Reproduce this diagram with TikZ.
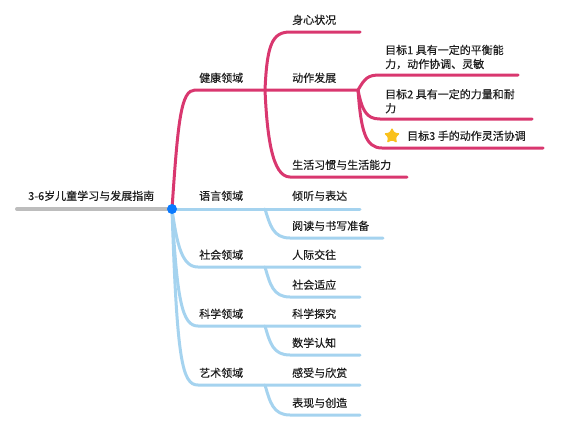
\documentclass[tikz,border=0pt]{standalone}
\usepackage{fontspec}
\setmainfont{Noto Sans CJK SC}[FakeBold=0.4]
\usetikzlibrary{shapes.geometric}
\definecolor{pinkc}{HTML}{D9376F}
\definecolor{bluec}{HTML}{A5D3EF}
\definecolor{dotc}{HTML}{0A7AFF}
\definecolor{rootc}{HTML}{BDBDBD}
\definecolor{starc}{HTML}{F9C11C}
\definecolor{txtc}{HTML}{1E1E1E}
\begin{document}
\begin{tikzpicture}[x=1pt,y=-1pt,
  lbl/.style={anchor=base west, inner sep=0pt, font=\fontsize{11}{14}\selectfont, text=txtc},
  pk/.style={draw=pinkc, line width=3pt, line cap=round},
  bl/.style={draw=bluec, line width=3pt, line cap=round}]
\useasboundingbox (0,0) rectangle (570,432);
% ---- coordinates of underlines
\coordinate (r0) at (17,209);
\coordinate (dot) at (172,209);
% health
\coordinate (h0) at (195,90);
\coordinate (hf) at (265,90);
\coordinate (s0) at (290,32);  \coordinate (s1) at (360,32);
\coordinate (af) at (358,90);
\coordinate (l0) at (290,177); \coordinate (l1) at (407,177);
\coordinate (g1a) at (380,75);  \coordinate (g1b) at (518,75);
\coordinate (g2a) at (380,119); \coordinate (g2b) at (532,119);
\coordinate (g3a) at (382,148); \coordinate (g3b) at (543,148);
% language
\coordinate (yf) at (265,209); \coordinate (y1) at (360,209);
\coordinate (rd0) at (290,238); \coordinate (rd1) at (383,238);
% social
\coordinate (so0) at (198,267); \coordinate (sof) at (265,267); \coordinate (so1) at (360,267);
\coordinate (sa0) at (290,297); \coordinate (sa1) at (360,297);
% science
\coordinate (sc0) at (198,326); \coordinate (scf) at (265,326); \coordinate (sc1) at (360,326);
\coordinate (ma0) at (290,355); \coordinate (ma1) at (360,355);
% art
\coordinate (ar0) at (198,385); \coordinate (arf) at (265,385); \coordinate (ar1) at (360,385);
\coordinate (bx0) at (290,415); \coordinate (bx1) at (360,415);

% ---- root line
\draw[draw=rootc, line width=4pt, line cap=round] (r0) -- (dot);

% ---- health branch (pink)
\draw[pk] (dot) .. controls (178,120) and (181,90) .. (h0) -- (hf) -- (af);
\draw[pk] (hf) .. controls (267,45) and (272,32) .. (s0) -- (s1);
\draw[pk] (hf) .. controls (267,135) and (272,177) .. (l0) -- (l1);
\draw[pk] (af) .. controls (365,78) and (368,75) .. (g1a) -- (g1b);
\draw[pk] (af) .. controls (362,110) and (366,119) .. (g2a) -- (g2b);
\draw[pk] (af) .. controls (361,130) and (365,148) .. (g3a) -- (g3b);

% ---- other branches (blue)
\draw[bl] (dot) -- (yf) -- (y1);
\draw[bl] (yf) .. controls (270,225) and (273,238) .. (rd0) -- (rd1);
\draw[bl] (dot) .. controls (177,245) and (182,267) .. (so0) -- (sof) -- (so1);
\draw[bl] (sof) .. controls (270,284) and (273,297) .. (sa0) -- (sa1);
\draw[bl] (dot) .. controls (177,300) and (182,326) .. (sc0) -- (scf) -- (sc1);
\draw[bl] (scf) .. controls (270,343) and (273,355) .. (ma0) -- (ma1);
\draw[bl] (dot) .. controls (177,360) and (182,385) .. (ar0) -- (arf) -- (ar1);
\draw[bl] (arf) .. controls (270,402) and (273,415) .. (bx0) -- (bx1);

\fill[dotc] (dot) circle (5pt);

% ---- labels
\node[lbl] (root) at (28,200) {3-6岁儿童学习与发展指南};
\node[lbl] (health) at (199,82) {健康领域};
\node[lbl] (shenxin) at (292,24) {身心状况};
\node[lbl] (dongzuo) at (292,82) {动作发展};
\node[lbl] (shenghuo) at (292,169) {生活习惯与生活能力};
\node[lbl, anchor=south west, align=left] (goal1) at (385,69.5) {目标1 具有一定的平衡能\\力，动作协调、灵敏};
\node[lbl, anchor=south west, align=left] (goal2) at (385,113.5) {目标2 具有一定的力量和耐\\力};
\node[star, star points=5, star point ratio=2.0, fill=starc, minimum size=17pt, inner sep=0pt, rounded corners=1.2pt] (staricon) at (392,136) {};
\node[lbl] (goal3) at (407,140) {目标3 手的动作灵活协调};

\node[lbl] (yuyan) at (199,200) {语言领域};
\node[lbl] (qingting) at (292,200) {倾听与表达};
\node[lbl] (yuedu) at (292,230) {阅读与书写准备};
\node[lbl] (shehui) at (199,259) {社会领域};
\node[lbl] (renji) at (292,259) {人际交往};
\node[lbl] (shiying) at (292,289) {社会适应};
\node[lbl] (kexue) at (199,318) {科学领域};
\node[lbl] (tanjiu) at (292,318) {科学探究};
\node[lbl] (shuxue) at (292,347) {数学认知};
\node[lbl] (yishu) at (199,377) {艺术领域};
\node[lbl] (ganshou) at (292,377) {感受与欣赏};
\node[lbl] (biaoxian) at (292,407) {表现与创造};
\end{tikzpicture}
\end{document}
